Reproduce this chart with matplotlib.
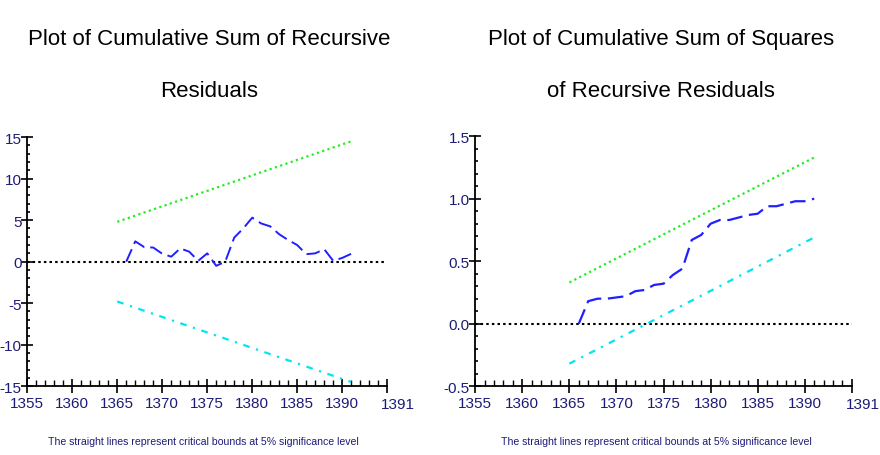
import matplotlib
matplotlib.use('Agg')
import matplotlib.pyplot as plt
from matplotlib.ticker import MultipleLocator

plt.rcParams['font.family'] = ['Liberation Sans', 'DejaVu Sans']

# data
years = list(range(1366, 1392))
cusum = [0.0, 2.45, 1.75, 1.7, 0.95, 0.6, 1.6, 1.2, 0.1, 1.0, -0.5, 0.0, 2.9,
         4.0, 5.3, 4.6, 4.25, 3.3, 2.6, 2.0, 0.9, 1.0, 1.5, 0.1, 0.45, 0.95]
cusumsq = [0.0, 0.18, 0.2, 0.2, 0.21, 0.22, 0.26, 0.27, 0.31, 0.32, 0.39, 0.44, 0.67,
           0.71, 0.8, 0.83, 0.83, 0.85, 0.87, 0.88, 0.94, 0.94, 0.96, 0.98, 0.98, 1.0]
bound_years = [1365, 1391]
cusum_upper = [4.8, 14.5]
cusum_lower = [-4.8, -14.5]
cusumsq_upper = [0.33, 1.33]
cusumsq_lower = [-0.32, 0.69]
xticks = [1355, 1360, 1365, 1370, 1375, 1380, 1385, 1390, 1395]
xticklabels = ['1355', '1360', '1365', '1370', '1375', '1380', '1385', '1390', '']

navy = '#1c1c78'

fig = plt.figure(figsize=(8.8, 4.56), dpi=100)
ax1 = fig.add_axes([0.031, 0.151, 0.409, 0.546])
ax2 = fig.add_axes([0.540, 0.151, 0.428, 0.548])


def style(ax, ylim, ymajor, yminor, fmt, note_x):
    ax.set_xlim(1355, 1395)
    ax.set_ylim(*ylim)
    for s in ['top', 'right']:
        ax.spines[s].set_visible(False)
    for s in ['left', 'bottom']:
        ax.spines[s].set_linewidth(1.3)
    ax.set_xticks(xticks)
    ax.set_xticklabels(xticklabels)
    ax.xaxis.set_minor_locator(MultipleLocator(1))
    ax.yaxis.set_major_locator(MultipleLocator(ymajor))
    ax.yaxis.set_minor_locator(MultipleLocator(yminor))
    ax.set_yticklabels([fmt % v for v in ax.get_yticks()])
    ax.set_ylim(*ylim)
    ax.tick_params(axis='x', which='major', direction='inout', length=10, width=1.2,
                   labelsize=11, labelcolor=navy, pad=2)
    ax.tick_params(axis='x', which='minor', direction='in', length=4, width=1)
    ax.tick_params(axis='y', which='major', direction='inout', length=8, width=1.2,
                   labelsize=11, labelcolor=navy, pad=0)
    ax.tick_params(axis='y', which='minor', direction='in', length=2.5, width=1.2)
    ax.text(1396.2, -0.045, '1391', transform=ax.get_xaxis_transform(),
            ha='center', va='top', fontsize=11, color=navy)
    ax.text(note_x, -0.2,
            'The straight lines represent critical bounds at 5% significance level',
            transform=ax.transAxes, ha='center', va='top', fontsize=7.6, color=navy)


style(ax1, (-15, 15), 5, 1, '%d', 0.49)
style(ax2, (-0.5, 1.5), 0.5, 0.1, '%.1f', 0.48)

# CUSUM
ax1.axhline(0, color='black', linestyle=(0, (1.2, 1.5)), linewidth=1.5)
ax1.plot(years, cusum, color='#2020ff', linewidth=1.4, linestyle=(0, (7, 3)))
ax1.plot(bound_years, cusum_upper, color='#22ee22', linewidth=1.6, linestyle=(0, (1, 1.5)))
ax1.plot(bound_years, cusum_lower, color='#00e5f0', linewidth=1.6, linestyle=(0, (3, 3, 1, 3)))

# CUSUM of squares
ax2.axhline(0, color='black', linestyle=(0, (1.2, 1.5)), linewidth=1.5)
ax2.plot(years, cusumsq, color='#2020ff', linewidth=1.6, linestyle=(0, (7, 3)))
ax2.plot(bound_years, cusumsq_upper, color='#22ee22', linewidth=1.6, linestyle=(0, (1, 1.5)))
ax2.plot(bound_years, cusumsq_lower, color='#00e5f0', linewidth=1.6, linestyle=(0, (3, 3, 1, 3)))

# titles, two lines each
fig.text(0.2375, 0.901, 'Plot of Cumulative Sum of Recursive', ha='center', va='baseline', fontsize=16)
fig.text(0.2375, 0.788, 'Residuals', ha='center', va='baseline', fontsize=16)
fig.text(0.751, 0.901, 'Plot of Cumulative Sum of Squares', ha='center', va='baseline', fontsize=16)
fig.text(0.751, 0.788, 'of Recursive Residuals', ha='center', va='baseline', fontsize=16)

fig.savefig('out.png', dpi=100)
